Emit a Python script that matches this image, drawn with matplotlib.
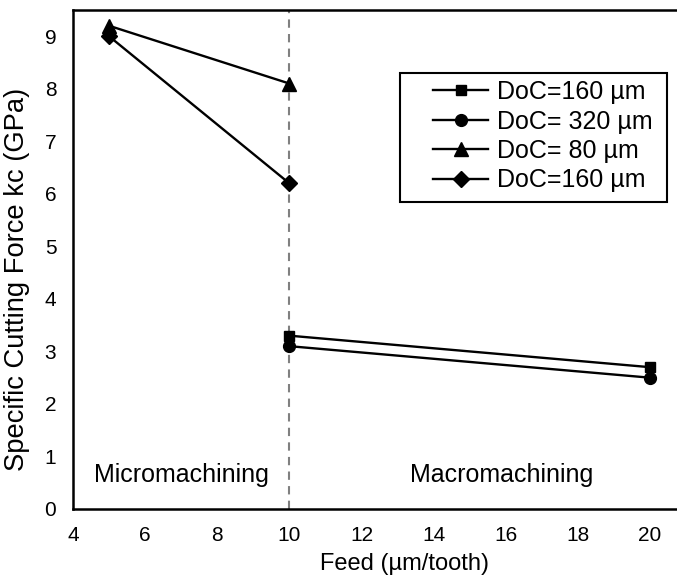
import matplotlib
matplotlib.use("Agg")
import matplotlib.pyplot as plt
from matplotlib.patches import Rectangle

plt.rcParams["font.family"] = ["Liberation Sans", "DejaVu Sans"]

# data
feed_micro = [5, 10]
feed_macro = [10, 20]
kc_doc80 = [9.2, 8.1]
kc_doc160_micro = [9.0, 6.2]
kc_doc160_macro = [3.3, 2.7]
kc_doc320 = [3.1, 2.5]

fig = plt.figure(figsize=(6.77, 5.84), dpi=100)
ax = fig.add_axes([73 / 677, 1 - 509 / 584, 1 - 73 / 677, (509 - 10) / 584])


def px(x, y):
    # picture pixels -> axes fraction
    return (x - 73) / 604, (509 - y) / 499


style = dict(color="black", linewidth=1.7)
ax.plot(feed_macro, kc_doc160_macro, marker="s", markersize=7.5, label="DoC=160 µm", **style)
ax.plot(feed_macro, kc_doc320, marker="o", markersize=8.5, label="DoC= 320 µm", **style)
ax.plot(feed_micro, kc_doc80, marker="^", markersize=10.5, label="DoC= 80 µm", **style)
ax.plot(feed_micro, kc_doc160_micro, marker="D", markersize=8.5, label="DoC=160 µm", **style)

ax.axvline(x=10, color="gray", linestyle=(0, (4, 3)), linewidth=1.5, zorder=0)

ax.text(7, 0.65, "Micromachining", fontsize=18, ha="center", va="center")
ax.text(15.9, 0.65, "Macromachining", fontsize=18, ha="center", va="center")

ax.set_xlim(4, 20.75)
ax.set_ylim(0, 9.5)
ax.set_xticks(range(4, 21, 2))
ax.set_yticks(range(0, 10))
ax.tick_params(axis="x", length=0, pad=12, labelsize=15)
ax.tick_params(axis="y", length=0, pad=12, labelsize=15)

for side in ["left", "bottom", "top"]:
    ax.spines[side].set_linewidth(1.8)
ax.spines["right"].set_visible(False)

ax.set_xlabel("Feed (µm/tooth)", fontsize=17)
ax.xaxis.set_label_coords(*px(404, 553))
ax.set_ylabel("Specific Cutting Force kc (GPa)", fontsize=19.7)
ax.yaxis.set_label_coords(*px(30, 279))

leg = ax.legend(loc="upper left", bbox_to_anchor=px(433, 80), fontsize=18, frameon=False,
                handlelength=2.2, handletextpad=0.35, labelspacing=0.22,
                borderpad=0, borderaxespad=0)
x0, y0 = px(400, 202)
x1, y1 = px(667, 73)
ax.add_patch(Rectangle((x0, y0), x1 - x0, y1 - y0, transform=ax.transAxes,
                       facecolor="white", edgecolor="black", linewidth=1.5, zorder=4))
leg.set_zorder(5)

fig.savefig("out.png", dpi=100)
